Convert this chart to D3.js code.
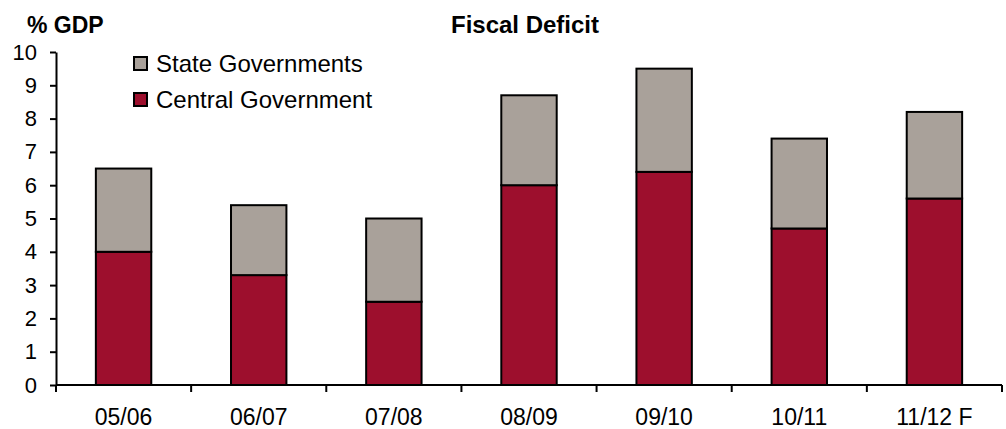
<!doctype html>
<html lang="en">
	<head>
		<meta charset="utf-8" />
		<title>Fiscal Deficit</title>
		<script src="https://cdn.jsdelivr.net/npm/d3@7"></script>
		<style>
			body { margin: 0; background: #fff; }
			svg text { font-family: "Liberation Sans", Arial, sans-serif; fill: #000; }
		</style>
	</head>
	<body>
		<div id="chart"></div>
		<script>
			// data (% of GDP)
			const years = ["05/06", "06/07", "07/08", "08/09", "09/10", "10/11", "11/12 F"];
			const central = [4.0, 3.3, 2.5, 6.0, 6.4, 4.7, 5.6];
			const state = [2.5, 2.1, 2.5, 2.7, 3.1, 2.7, 2.6];
			const yTicks = [0, 1, 2, 3, 4, 5, 6, 7, 8, 9, 10];
			const seriesNames = ["State Governments", "Central Government"];
			const seriesColors = { "Central Government": "#9d0f2d", "State Governments": "#a9a19a" };

			const WIDTH = 1006;
			const HEIGHT = 429;
			const MARGIN = { LEFT: 56, RIGHT: 4, TOP: 52, BOTTOM: 44 };
			const BAR_FRAC = 0.41;

			const svg = d3.select("#chart").append("svg").attr("width", WIDTH).attr("height", HEIGHT);

			const x = d3.scaleBand().domain(years).range([MARGIN.LEFT, WIDTH - MARGIN.RIGHT]).padding(0);
			const y = d3.scaleLinear().domain([0, 10]).range([HEIGHT - MARGIN.BOTTOM, MARGIN.TOP]);

			const rows = years.map((yr, i) => ({ year: yr, central: central[i], state: state[i] }));
			const stacked = d3.stack().keys(["central", "state"])(rows);
			const keyName = { central: "Central Government", state: "State Governments" };

			const barW = x.bandwidth() * BAR_FRAC;
			svg.append("g")
				.selectAll("g")
				.data(stacked)
				.join("g")
				.attr("fill", (s) => seriesColors[keyName[s.key]])
				.selectAll("rect")
				.data((s) => s)
				.join("rect")
				.attr("x", (d) => x(d.data.year) + (x.bandwidth() - barW) / 2)
				.attr("width", barW)
				.attr("y", (d) => y(d[1]))
				.attr("height", (d) => y(d[0]) - y(d[1]))
				.attr("stroke", "#000")
				.attr("stroke-width", 2);

			// y axis
			const yAxis = svg.append("g")
				.attr("transform", `translate(${MARGIN.LEFT},0)`)
				.call(d3.axisLeft(y).tickValues(yTicks).tickSize(6).tickPadding(13).tickSizeOuter(0));
			yAxis.selectAll("text").attr("font-size", 22);
			yAxis.select(".domain").attr("stroke-width", 2);
			yAxis.selectAll(".tick line").attr("stroke-width", 2);

			// x axis: ticks at category boundaries
			const xAxis = svg.append("g").attr("transform", `translate(0,${y(0)})`);
			xAxis.append("line")
				.attr("x1", MARGIN.LEFT).attr("x2", WIDTH - MARGIN.RIGHT)
				.attr("stroke", "#000").attr("stroke-width", 2);
			const bounds = years.map((d) => x(d)).concat([x.range()[1]]);
			xAxis.selectAll(".tk").data(bounds).join("line")
				.attr("x1", (d) => d).attr("x2", (d) => d)
				.attr("y1", 0).attr("y2", 7)
				.attr("stroke", "#000").attr("stroke-width", 2);
			xAxis.selectAll(".lbl").data(years).join("text")
				.attr("x", (d) => x(d) + x.bandwidth() / 2)
				.attr("y", 40)
				.attr("text-anchor", "middle")
				.attr("font-size", 23)
				.text((d) => d);

			// titles
			svg.append("text").attr("x", 27).attr("y", 33).attr("font-size", 23).attr("font-weight", "bold").text("% GDP");
			svg.append("text").attr("x", 525).attr("y", 33).attr("text-anchor", "middle").attr("font-size", 24).attr("font-weight", "bold").text("Fiscal Deficit");

			// legend
			const legend = svg.append("g").attr("transform", "translate(134,57)");
			const li = legend.selectAll("g").data(seriesNames).join("g")
				.attr("transform", (d, i) => `translate(0,${i * 36})`);
			li.append("rect").attr("width", 13).attr("height", 13)
				.attr("fill", (d) => seriesColors[d]).attr("stroke", "#000").attr("stroke-width", 2);
			li.append("text").attr("x", 22).attr("y", 15).attr("font-size", 24).text((d) => d);
		</script>
	</body>
</html>
